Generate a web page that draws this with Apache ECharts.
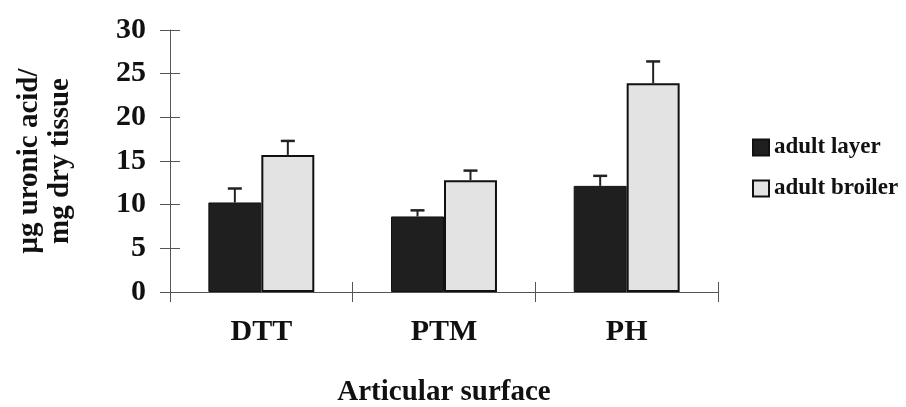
<!DOCTYPE html>
<html>
<head>
<meta charset="utf-8">
<script src="https://cdn.jsdelivr.net/npm/echarts@6/dist/echarts.min.js"></script>
<style>html,body{margin:0;padding:0;background:#fff}#c{width:906px;height:407px}</style>
</head>
<body>
<div id="c"></div>
<script>
const categories = ['DTT', 'PTM', 'PH'];
const seriesNames = ['adult layer', 'adult broiler'];
const layerValues = [10.25, 8.65, 12.15];
const broilerValues = [15.7, 12.8, 23.9];
const layerErrors = [1.6, 0.7, 1.15];
const broilerErrors = [1.6, 1.1, 2.5];
const yTicks = [0, 5, 10, 15, 20, 25, 30];

const FONT = "'Liberation Serif', 'Times New Roman', serif";
const CAT_GAP = 0.42;

function errorSeries(values, errors, side) {
  return {
    type: 'custom',
    z: 5,
    silent: true,
    data: values.map((v, i) => [i, v, v + errors[i]]),
    renderItem: function (params, api) {
      const band = api.size([1, 0])[0];
      const barW = band * (1 - CAT_GAP) / 2;
      const c = api.coord([api.value(0), api.value(1)]);
      const t = api.coord([api.value(0), api.value(2)]);
      const x = c[0] + side * barW / 2;
      const cap = 7;
      return {
        type: 'group',
        children: [
          { type: 'line', shape: { x1: x, y1: c[1], x2: x, y2: t[1] }, style: { stroke: '#222', lineWidth: 2 } },
          { type: 'line', shape: { x1: x - cap, y1: t[1], x2: x + cap, y2: t[1] }, style: { stroke: '#222', lineWidth: 2.5 } }
        ]
      };
    }
  };
}

const chart = echarts.init(document.getElementById('c'), null, { renderer: 'canvas' });
chart.setOption({
  backgroundColor: '#fff',
  animation: false,
  textStyle: { fontFamily: FONT },
  grid: { left: 170, right: 188, top: 30, bottom: 115, containLabel: false, outerBoundsMode: 'none' },
  legend: {
    orient: 'vertical',
    left: 747,
    top: 131,
    icon: 'rect',
    itemWidth: 16,
    itemHeight: 16,
    itemGap: 18,
    textStyle: { fontFamily: FONT, fontWeight: 'bold', fontSize: 23, color: '#111' },
    data: seriesNames
  },
  xAxis: [{
    type: 'category',
    data: categories,
    position: 'bottom',
    axisLine: { lineStyle: { color: '#555', width: 1 } },
    axisTick: { show: true, length: 10, lineStyle: { color: '#555' } },
    axisLabel: { margin: 25, fontFamily: FONT, fontWeight: 'bold', fontSize: 30, color: '#111' },
    name: 'Articular surface',
    nameLocation: 'middle',
    nameGap: 86,
    nameTextStyle: { fontFamily: FONT, fontWeight: 'bold', fontSize: 29, color: '#111' }
  }, {
    type: 'category',
    data: categories,
    position: 'bottom',
    axisLine: { show: false },
    axisTick: { show: true, inside: true, length: 10, lineStyle: { color: '#555' } },
    axisLabel: { show: false }
  }],
  yAxis: [{
    type: 'value',
    min: 0, max: 30, interval: 5,
    splitLine: { show: false },
    axisLine: { show: true, lineStyle: { color: '#555', width: 1 } },
    axisTick: { show: true, length: 10, lineStyle: { color: '#555' } },
    axisLabel: { margin: 24, fontFamily: FONT, fontWeight: 'bold', fontSize: 30, color: '#111',
      formatter: v => yTicks.includes(v) ? String(v) : '' },
    name: 'μg uronic acid/\nmg dry tissue',
    nameLocation: 'middle',
    nameGap: 94,
    nameRotate: 90,
    nameTextStyle: { fontFamily: FONT, fontWeight: 'bold', fontSize: 29, lineHeight: 31, color: '#111' }
  }, {
    type: 'value',
    min: 0, max: 30, interval: 5,
    position: 'left',
    splitLine: { show: false },
    axisLine: { show: false },
    axisTick: { show: true, inside: true, length: 10, lineStyle: { color: '#555' } },
    axisLabel: { show: false }
  }],
  series: [{
    name: seriesNames[0],
    type: 'bar',
    data: layerValues,
    barGap: '0%',
    barCategoryGap: (CAT_GAP * 100) + '%',
    itemStyle: { color: '#1f1f1f', borderColor: '#111', borderWidth: 1 }
  }, {
    name: seriesNames[1],
    type: 'bar',
    data: broilerValues,
    barGap: '0%',
    barCategoryGap: (CAT_GAP * 100) + '%',
    itemStyle: { color: '#e3e3e3', borderColor: '#111', borderWidth: 2 }
  },
  errorSeries(layerValues, layerErrors, -1),
  errorSeries(broilerValues, broilerErrors, 1)
  ]
});
</script>
</body>
</html>
